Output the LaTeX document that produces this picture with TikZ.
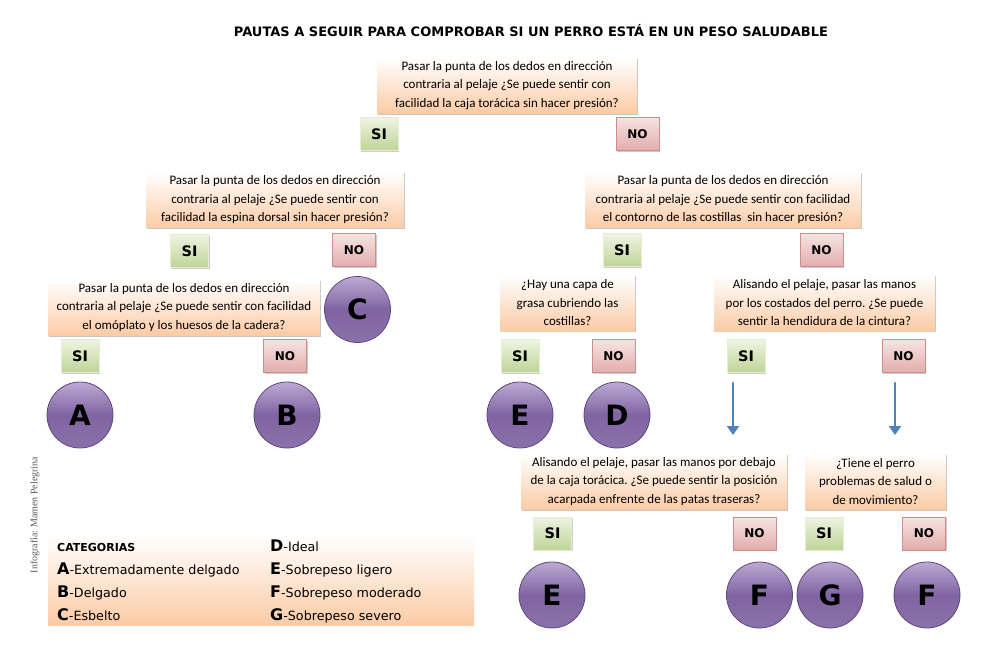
\documentclass[tikz,border=0pt]{standalone}
\usepackage{fontspec}
\setmainfont{Carlito}
\newfontfamily\heavyfont{DejaVu Sans}
\newfontfamily\creditfont{Liberation Serif}
\usetikzlibrary{arrows.meta,positioning,shadows}

\definecolor{peach}{HTML}{FBCBA5}
\definecolor{silight}{HTML}{EEF4E2}
\definecolor{sigreen}{HTML}{BFD496}
\definecolor{nolight}{HTML}{F6E3E2}
\definecolor{nored}{HTML}{E2ADAC}
\definecolor{noedge}{HTML}{D08C8A}
\definecolor{catlight}{HTML}{BBAAD3}
\definecolor{catmid}{HTML}{8064A2}
\definecolor{catedge}{HTML}{5E4A7C}
\definecolor{flowblue}{HTML}{4F81BD}
\frenchspacing

\begin{document}
\begin{tikzpicture}[x=1pt,y=-1pt,line cap=round,
  question/.style={top color=white,bottom color=peach,inner sep=0pt,align=center,
    minimum height=56,font=\fontsize{13}{18.5}\selectfont,
    drop shadow={shadow xshift=1.3pt,shadow yshift=-1.3pt,opacity=.45}},
  yes/.style={top color=silight,bottom color=sigreen,draw=white!60!sigreen,
    minimum width=38,minimum height=33,inner sep=0pt,font=\heavyfont\bfseries\fontsize{14.5}{14}\selectfont,
    drop shadow={shadow xshift=1.3pt,shadow yshift=-1.3pt,opacity=.4}},
  no/.style={top color=nolight,bottom color=nored,draw=noedge,
    minimum width=43,minimum height=33,inner sep=0pt,font=\heavyfont\bfseries\fontsize{12}{12}\selectfont,
    drop shadow={shadow xshift=1.3pt,shadow yshift=-1.3pt,opacity=.4}},
  category/.style={circle,minimum size=66,inner sep=0pt,draw=catedge,line width=.8pt,
    top color=catlight,bottom color=catmid!80!catlight,middle color=catmid,
    font=\heavyfont\bfseries\fontsize{28}{28}\selectfont},
  flow/.style={draw=flowblue,line width=2.8pt,-{Triangle[length=9pt,width=12pt]}},
  legend/.style={anchor=base west,inner sep=0pt,font=\heavyfont\fontsize{12.7}{13}\selectfont}]
  \useasboundingbox (0,0) rectangle (1000,660);

  % Title
  \node[font=\heavyfont\bfseries\fontsize{13}{13}\selectfont] (title) at (531,31)
    {PAUTAS A SEGUIR PARA COMPROBAR SI UN PERRO ESTÁ EN UN PESO SALUDABLE};

  % Top question
  \node[question,minimum width=260] (q1) at (507,85.5)
    {Pasar la punta de los dedos en dirección\\contraria al pelaje ¿Se puede sentir con\\facilidad la caja torácica sin hacer presión?};
  \node[yes] (si1) at (379,134) {SI};
  \node[no] (no1) at (637.5,134) {NO};

  % Left branch
  \node[question,minimum width=258] (q2) at (275,200)
    {Pasar la punta de los dedos en dirección\\contraria al pelaje ¿Se puede sentir con\\facilidad la espina dorsal sin hacer presión?};
  \node[yes] (si2) at (189.5,251) {SI};
  \node[no] (no2) at (354,250) {NO};
  \node[question,minimum width=272] (q3) at (184,307.5)
    {Pasar la punta de los dedos en dirección\\contraria al pelaje ¿Se puede sentir con facilidad\\el omóplato y los huesos de la cadera?};
  \node[category] (catc) at (357.5,309.5) {C};
  \node[yes] (si3) at (80,356) {SI};
  \node[no] (no3) at (285,356) {NO};
  \node[category] (cata) at (80,415) {A};
  \node[category] (catb) at (287,415) {B};

  % Right branch
  \node[question,minimum width=276] (q4) at (723,200)
    {Pasar la punta de los dedos en dirección\\contraria al pelaje ¿Se puede sentir con facilidad\\el contorno de las costillas~ sin hacer presión?};
  \node[yes] (si4) at (622,250) {SI};
  \node[no] (no4) at (821.5,250) {NO};
  \node[question,minimum width=135] (q5) at (567.5,303)
    {¿Hay una capa de\\grasa cubriendo las\\costillas?};
  \node[yes] (si5) at (520,356) {SI};
  \node[no] (no5) at (613.5,356) {NO};
  \node[category] (cate) at (520,415) {E};
  \node[category] (catd) at (617,415) {D};
  \node[question,minimum width=221] (q6) at (824.5,303)
    {Alisando el pelaje, pasar las manos\\por los costados del perro. ¿Se puede\\sentir la hendidura de la cintura?};
  \node[yes] (si6) at (746,356) {SI};
  \node[no] (no6) at (903.5,356) {NO};
  \coordinate (arrowsi) at (733,383);
  \coordinate (arrowsiend) at (733,435);
  \coordinate (arrowno) at (895,383);
  \coordinate (arrownoend) at (895,435);
  \draw[flow] (arrowsi) -- (arrowsiend);
  \draw[flow] (arrowno) -- (arrownoend);

  % Bottom questions
  \node[question,minimum width=266] (q7) at (654,481.5)
    {Alisando el pelaje, pasar las manos por debajo\\de la caja torácica. ¿Se puede sentir la posición\\acarpada enfrente de las patas traseras?};
  \node[yes] (si7) at (552.5,533.5) {SI};
  \node[no] (no7) at (754.5,533.5) {NO};
  \node[question,minimum width=141] (q8) at (875.5,481.5)
    {¿Tiene el perro\\problemas de salud o\\de movimiento?};
  \node[yes] (si8) at (824,533.5) {SI};
  \node[no] (no8) at (924,533.5) {NO};
  \node[category] (cate2) at (552,595) {E};
  \node[category] (catf) at (759.5,595) {F};
  \node[category] (catg) at (830,595) {G};
  \node[category] (catf2) at (927,595) {F};

  % Legend
  \fill[top color=white,bottom color=peach] (48,536) rectangle (474,625);
  \node[legend,font=\heavyfont\bfseries\fontsize{11}{11}\selectfont] (legtitle) at (57,551) {CATEGORIAS};
  \node[legend] (lega) at (57,574) {{\bfseries\fontsize{16}{16}\selectfont A}-Extremadamente delgado};
  \node[legend] (legb) at (57,597) {{\bfseries\fontsize{16}{16}\selectfont B}-Delgado};
  \node[legend] (legc) at (57,620) {{\bfseries\fontsize{16}{16}\selectfont C}-Esbelto};
  \node[legend] (legd) at (270,551) {{\bfseries\fontsize{16}{16}\selectfont D}-Ideal};
  \node[legend] (lege) at (270,574) {{\bfseries\fontsize{16}{16}\selectfont E}-Sobrepeso ligero};
  \node[legend] (legf) at (270,597) {{\bfseries\fontsize{16}{16}\selectfont F}-Sobrepeso moderado};
  \node[legend] (legg) at (270,620) {{\bfseries\fontsize{16}{16}\selectfont G}-Sobrepeso severo};

  % Credit
  \node[rotate=90,text=black!65,font=\creditfont\fontsize{10}{10}\selectfont] (credit) at (35,515)
    {Infografía: Mamen Pelegrina};
\end{tikzpicture}
\end{document}
